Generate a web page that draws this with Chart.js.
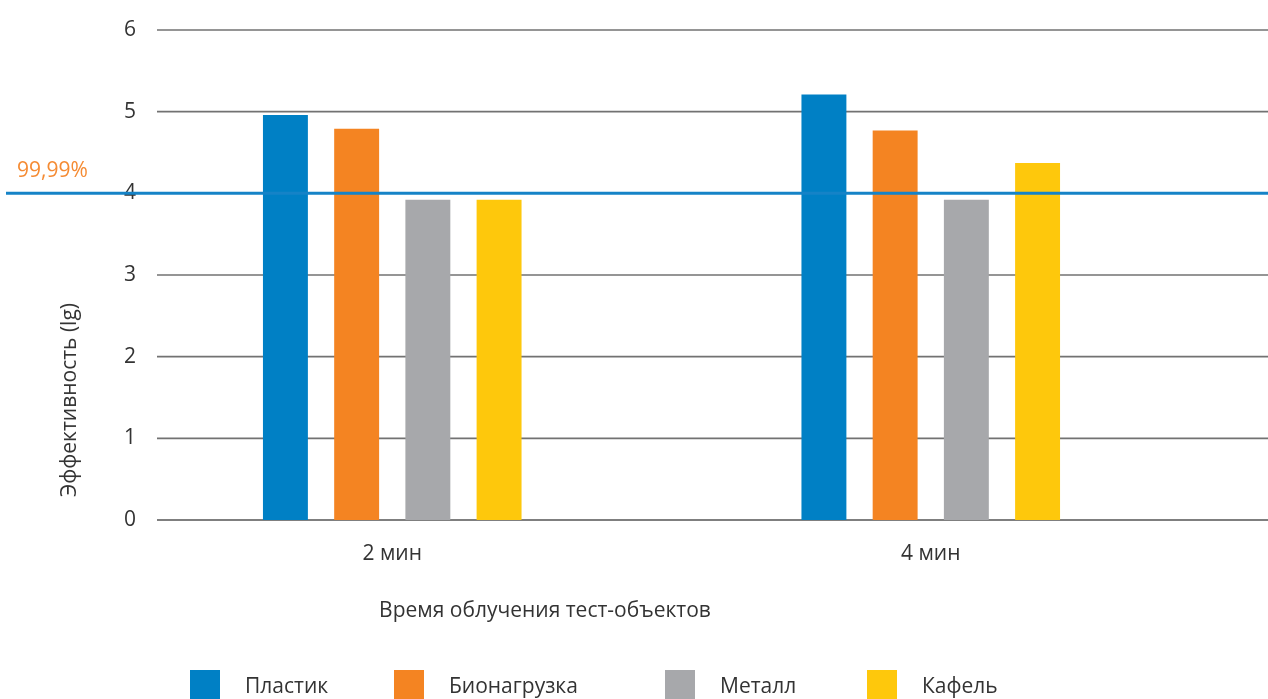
<!DOCTYPE html>
<html>
<head>
<meta charset="utf-8">
<script src="https://cdn.jsdelivr.net/npm/chart.js@4.4.1/dist/chart.umd.min.js"></script>
<style>
    html, body { margin: 0; padding: 0; background: #fff; }
    #wrap { position: relative; width: 1268px; height: 699px; overflow: hidden; font-family: "Open Sans", sans-serif; color: #333; }
    #chart { position: absolute; left: 0; top: 0; }
    .title-x { position: absolute; left: 545px; top: 595px; transform: translateX(-50%); font-size: 21px; line-height: normal; white-space: nowrap; }
    .title-y { position: absolute; left: 68px; top: 400px; transform: translate(-50%, -50%) rotate(-90deg); font-size: 21px; line-height: normal; white-space: nowrap; }
    .leg { position: absolute; top: 670px; height: 30px; line-height: 30px; font-size: 21px; white-space: nowrap; display: flex; align-items: center; }
    .leg i { display: inline-block; width: 30px; height: 30px; margin-right: 25px; }
</style>
</head>
<body>
<div id="wrap">
    <canvas id="chart" width="1268" height="699"></canvas>
    <div class="title-y">Эффективность (lg)</div>
    <div class="title-x">Время облучения тест-объектов</div>
</div>
<script>
const categories = ['2 мин', '4 мин'];
const seriesNames = ['Пластик', 'Бионагрузка', 'Металл', 'Кафель'];
const plastic = [4.96, 5.21];
const bioload = [4.79, 4.77];
const metal = [3.92, 3.92];
const tile = [3.92, 4.37];
const yMin = 0;
const yMax = 6;
const yStep = 1;
const thresholdValue = 4;
const thresholdLabel = '99,99%';

const colors = ['#0080c5', '#f48422', '#a7a8ab', '#fec80c'];
const legendLeft = [190, 394, 665, 867];
const FONT = {family: 'Open Sans', size: 21};

// grid lines start right of the tick labels and run to the edge, not the chart area
const refLines = {
    id: 'refLines',
    beforeDatasetsDraw(chart) {
        const {ctx, scales: {y}} = chart;
        ctx.save();
        y.ticks.forEach(t => {
            if (t.value === thresholdValue) return;
            const py = y.getPixelForValue(t.value);
            ctx.beginPath();
            ctx.lineWidth = 1.6;
            ctx.strokeStyle = t.value === yMin ? '#555' : '#727272';
            ctx.moveTo(157, py);
            ctx.lineTo(chart.width, py);
            ctx.stroke();
        });
        ctx.restore();
    },
    afterDatasetsDraw(chart) {
        const {ctx, scales: {y}} = chart;
        const py = y.getPixelForValue(thresholdValue);
        ctx.save();
        ctx.beginPath();
        ctx.lineWidth = 3;
        ctx.strokeStyle = '#1583c7';
        ctx.moveTo(6, py);
        ctx.lineTo(chart.width, py);
        ctx.stroke();
        ctx.fillStyle = '#f58b33';
        ctx.font = '21px "Open Sans"';
        ctx.textAlign = 'left';
        ctx.textBaseline = 'alphabetic';
        ctx.fillText(thresholdLabel, 17, py - 16);
        ctx.restore();
    }
};

const series = [plastic, bioload, metal, tile];

const chart = new Chart(document.getElementById('chart'), {
    type: 'bar',
    data: {
        labels: categories,
        datasets: series.map((vals, i) => ({
            label: seriesNames[i],
            data: vals,
            backgroundColor: colors[i],
            borderWidth: 0,
            barPercentage: 0.631,
            categoryPercentage: 0.529
        }))
    },
    options: {
        responsive: false,
        animation: false,
        devicePixelRatio: 1,
        layout: {padding: {top: 30, right: 68, bottom: 0, left: 0}},
        plugins: {legend: {display: false}, tooltip: {enabled: false}},
        scales: {
            x: {
                grid: {display: false, drawTicks: false},
                border: {display: false},
                ticks: {padding: 21, color: '#333', font: FONT},
                afterFit: s => { s.height = 179; }
            },
            y: {
                z: 1,
                min: yMin,
                max: yMax,
                grid: {display: false, drawTicks: false},
                border: {display: false},
                // mirrored so the labels sit just inside the plot, as in the original
                ticks: {stepSize: yStep, mirror: true, crossAlign: 'near', padding: 1, color: '#333', font: FONT},
                afterFit: s => { s.width = 123; }
            }
        }
    },
    plugins: [refLines]
});

// legend as html, items placed as in the original layout
const wrap = document.getElementById('wrap');
chart.data.datasets.forEach((ds, i) => {
    const item = document.createElement('div');
    item.className = 'leg';
    item.style.left = legendLeft[i] + 'px';
    const box = document.createElement('i');
    box.style.background = ds.backgroundColor;
    item.appendChild(box);
    item.appendChild(document.createTextNode(ds.label));
    wrap.appendChild(item);
});
</script>
</body>
</html>
